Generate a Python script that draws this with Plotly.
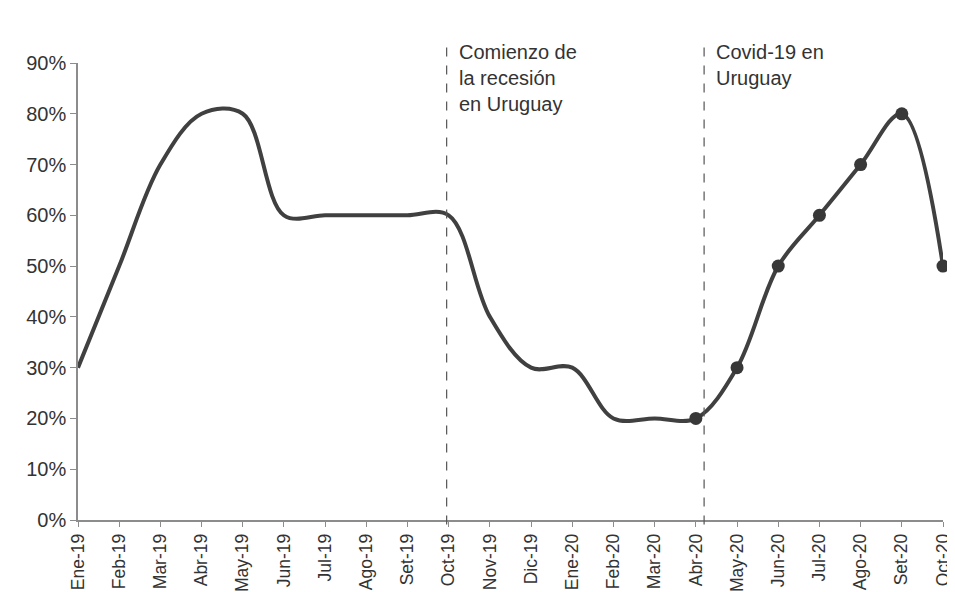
import plotly.graph_objects as go

months = ["Ene-19", "Feb-19", "Mar-19", "Abr-19", "May-19", "Jun-19", "Jul-19",
          "Ago-19", "Set-19", "Oct-19", "Nov-19", "Dic-19", "Ene-20", "Feb-20",
          "Mar-20", "Abr-20", "May-20", "Jun-20", "Jul-20", "Ago-20", "Set-20", "Oct-20"]
values = [30, 50, 70, 80, 80, 60, 60, 60, 60, 60, 40, 30, 30, 20, 20, 20, 30, 50, 60, 70, 80, 50]
marker_start = "Abr-20"
y_ticks = [0, 10, 20, 30, 40, 50, 60, 70, 80, 90]
event_pos = [8.95, 15.2]
event_text = ["Comienzo de<br>la recesión<br>en Uruguay", "Covid-19 en<br>Uruguay"]

x_idx = list(range(len(months)))
ms = months.index(marker_start)

fig = go.Figure()
fig.add_trace(go.Scatter(
    x=x_idx, y=values, mode="lines",
    line=dict(color="#404040", width=4, shape="spline", smoothing=1.0),
    hoverinfo="skip", showlegend=False, cliponaxis=False))
fig.add_trace(go.Scatter(
    x=x_idx[ms:], y=values[ms:], mode="markers",
    marker=dict(color="#383838", size=13),
    showlegend=False, cliponaxis=False))

for xp, txt in zip(event_pos, event_text):
    fig.add_shape(type="line", xref="x", yref="paper", x0=xp, x1=xp, y0=-0.01, y1=1.05,
                  line=dict(color="#555555", width=1.2, dash="dash"))
    fig.add_annotation(x=xp, xref="x", y=1.052, yref="paper", text=txt, showarrow=False,
                       xanchor="left", yanchor="top", xshift=10, align="left",
                       font=dict(family="Liberation Sans, Arial", size=20, color="#333333"))

fig.update_xaxes(range=[0, 21], tickvals=x_idx, ticktext=months, tickangle=-90,
                 showgrid=False, zeroline=False, showline=True, linecolor="#8c8c8c", linewidth=1.5,
                 ticks="outside", ticklen=5, tickcolor="#8c8c8c", automargin=False,
                 tickfont=dict(family="Liberation Sans, Arial", size=17.5, color="#333333"))
fig.update_yaxes(range=[0, 90], tickvals=y_ticks, ticktext=[f"{v}%" for v in y_ticks],
                 showgrid=False, zeroline=False, showline=True, linecolor="#8c8c8c", linewidth=1.5,
                 ticks="outside", ticklen=6, tickcolor="#8c8c8c", automargin=False,
                 tickfont=dict(family="Liberation Sans, Arial", size=20, color="#333333"))

fig.update_layout(width=947, height=584, margin=dict(l=70, r=12, t=55, b=72),
                  plot_bgcolor="white", paper_bgcolor="white")
fig.write_html("out.html")
